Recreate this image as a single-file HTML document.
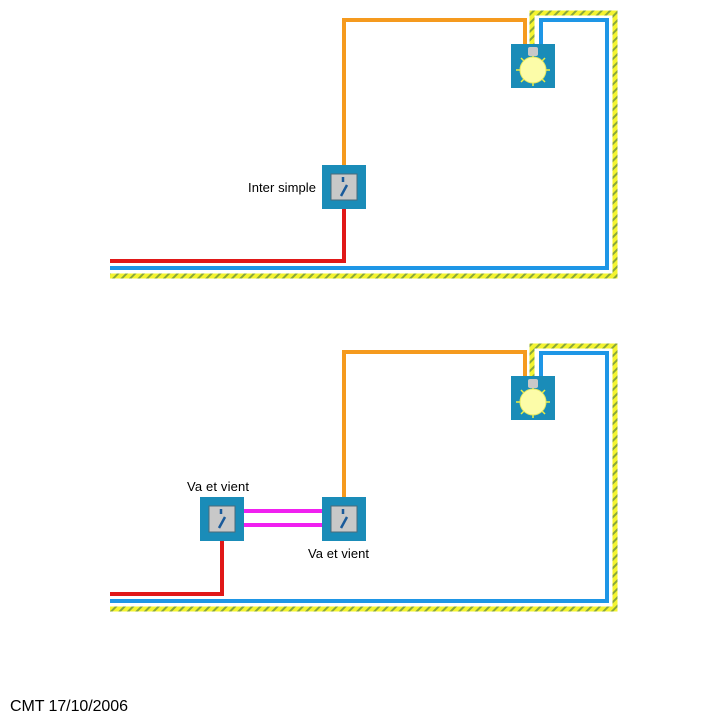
<!DOCTYPE html>
<html><head><meta charset="utf-8"><style>
body{margin:0;background:#fff;width:712px;height:720px;overflow:hidden}
svg{display:block}
text{font-family:"Liberation Sans",sans-serif;font-size:13px;fill:#000}
</style></head><body>
<svg width="712" height="720" viewBox="0 0 712 720">
<defs>
<pattern id="hatch" width="6" height="6" patternUnits="userSpaceOnUse" patternTransform="rotate(45)">
<rect width="6" height="6" fill="#f4f430"/><rect width="2" height="6" fill="#8aa838"/>
</pattern>
<g id="lamp">
<rect x="0" y="0" width="44" height="44" fill="#1a8cb8"/>
<g stroke="#f0f040" stroke-width="1.5">
<line x1="22" y1="10" x2="22" y2="42"/><line x1="5" y1="26" x2="39" y2="26"/>
<line x1="10" y1="14" x2="34" y2="38"/><line x1="34" y1="14" x2="10" y2="38"/>
</g>
<circle cx="22" cy="26" r="13" fill="#fcfca8" stroke="#e8e860"/>
<rect x="17" y="3" width="10" height="9" rx="2" fill="#c8c8c8"/>
</g>
<g id="sw">
<rect x="0" y="0" width="44" height="44" fill="#1a8cb8"/>
<rect x="9" y="9" width="26" height="26" fill="#c8c8c8" stroke="#4a6a7a"/>
<line x1="21" y1="12" x2="21" y2="17" stroke="#1a5a9a" stroke-width="2.5"/>
<line x1="25" y1="20" x2="19" y2="31" stroke="#1a5a9a" stroke-width="2.5"/>
</g>
</defs>
<g fill="none">
<path d="M110,276 H615 V13 H532 V45" stroke="url(#hatch)" stroke-width="5"/>
<path d="M110,268 H607 V20 H541 V45" stroke="#1e96e6" stroke-width="4"/>
<path d="M344,165 V20 H525 V45" stroke="#f59a1e" stroke-width="4"/>
<path d="M110,261 H344 V209" stroke="#e01818" stroke-width="4"/>
<path d="M110,609 H615 V346 H532 V377" stroke="url(#hatch)" stroke-width="5"/>
<path d="M110,601 H607 V353 H541 V377" stroke="#1e96e6" stroke-width="4"/>
<path d="M344,497 V352 H525 V377" stroke="#f59a1e" stroke-width="4"/>
<path d="M110,594 H222 V541" stroke="#e01818" stroke-width="4"/>
<path d="M244,511 H322 M244,525 H322" stroke="#f020f0" stroke-width="4"/>
</g>
<use href="#lamp" x="511" y="44"/>
<use href="#sw" x="322" y="165"/>
<use href="#lamp" x="511" y="376"/>
<use href="#sw" x="200" y="497"/>
<use href="#sw" x="322" y="497"/>
<text x="248" y="192" textLength="68">Inter simple</text>
<text x="187" y="491" textLength="62">Va et vient</text>
<text x="308" y="558" textLength="61">Va et vient</text>
<text x="10" y="711" style="font-size:16px" textLength="118">CMT 17/10/2006</text>
</svg>
</body></html>
